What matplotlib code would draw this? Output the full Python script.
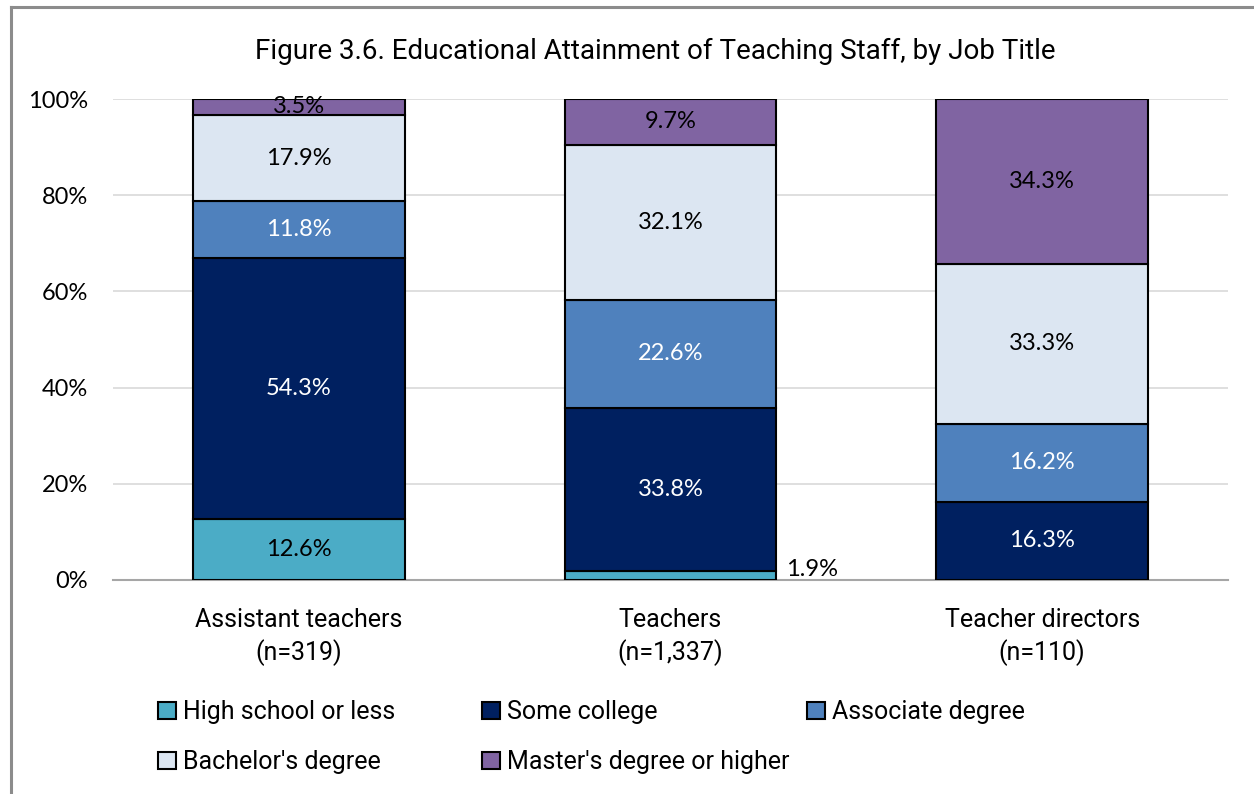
import numpy as np
import matplotlib
matplotlib.use('Agg')
import matplotlib.pyplot as plt
from matplotlib.patches import Patch
from matplotlib.lines import Line2D

# data
groups = ['Assistant teachers\n(n=319)', 'Teachers\n(n=1,337)', 'Teacher directors\n(n=110)']
levels = ['High school or less', 'Some college', 'Associate degree',
          "Bachelor's degree", "Master's degree or higher"]
high_school = [12.6, 1.9, 0.0]
some_college = [54.3, 33.8, 16.3]
associate = [11.8, 22.6, 16.2]
bachelor = [17.9, 32.1, 33.3]
master = [3.5, 9.7, 34.3]

colors = ['#4BACC6', '#002060', '#4F81BD', '#DCE6F2', '#8064A2']
label_colors = ['black', 'white', 'white', 'black', 'black']

series = [high_school, some_college, associate, bachelor, master]

fig = plt.figure(figsize=(12.54, 7.94), dpi=100)
ax = fig.add_axes([113/1254, 1-580/794, (1228-113)/1254, (580-99)/794])

x = np.arange(len(groups))
w = 0.57
bottom = np.zeros(len(groups))
for vals, c, lc in zip(series, colors, label_colors):
    vals = np.array(vals)
    ax.bar(x, vals, w, bottom=bottom, color=c, edgecolor='black', linewidth=1.5, zorder=3)
    for i, v in enumerate(vals):
        if v == 0:
            continue
        if v < 3:
            # tiny segment -> label sits to the right of the bar
            ax.text(x[i] + w/2 + 0.025, bottom[i] + 0.1, f'{v:.1f}%', ha='left', va='bottom',
                    fontsize=17, family='Lato', color='black', zorder=4)
        else:
            ax.text(x[i], bottom[i] + v/2, f'{v:.1f}%', ha='center', va='center',
                    fontsize=17, family='Lato', color=lc, zorder=4)
    bottom += vals

ax.set_xlim(-0.5, 2.5)
ax.set_ylim(0, 100)
ax.set_yticks(np.arange(0, 101, 20))
ax.set_yticklabels([f'{t}%' for t in range(0, 101, 20)], family='Lato', fontsize=17)
ax.set_xticks(x)
ax.set_xticklabels(groups, family='Roboto', fontsize=18, linespacing=1.35)
ax.tick_params(axis='both', length=0)
ax.tick_params(axis='y', pad=18)
ax.tick_params(axis='x', pad=20)
ax.yaxis.grid(True, color='#D9D9D9', linewidth=1.2, zorder=0)
for s in ['top', 'right', 'left']:
    ax.spines[s].set_visible(False)
ax.spines['bottom'].set_color('#A6A6A6')
ax.spines['bottom'].set_linewidth(1.5)
ax.spines['bottom'].set_zorder(2)

fig.text(655/1254, 1-51/794, 'Figure 3.6. Educational Attainment of Teaching Staff, by Job Title',
         ha='center', va='center', fontsize=20, family='Roboto')

# legend laid out like the original (fixed column positions)
legend_pos = [(158, 712), (482, 712), (807, 712), (158, 762), (482, 762)]
for lab, c, (px, py) in zip(levels, colors, legend_pos):
    fig.legend(handles=[Patch(facecolor=c, edgecolor='black', linewidth=1.5)], labels=[lab],
               loc='center left', bbox_to_anchor=(px/1254, 1-py/794), frameon=False,
               borderpad=0, borderaxespad=0, handlelength=0.7, handleheight=0.7,
               handletextpad=0.3, prop={'family': 'Roboto', 'size': 18})

# outer border (top and left visible)
fig.add_artist(Line2D([10.5/1254, 1], [1-6.5/794, 1-6.5/794], color='#8C8C8C', linewidth=2.2))
fig.add_artist(Line2D([10.5/1254, 10.5/1254], [0, 1-6.5/794], color='#8C8C8C', linewidth=2.2))

fig.savefig('out.png', dpi=100)
